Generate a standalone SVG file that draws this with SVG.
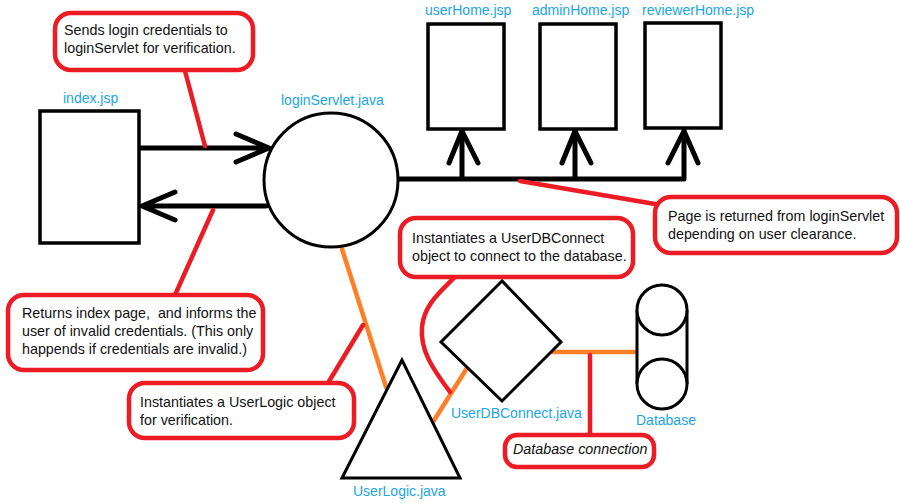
<svg xmlns="http://www.w3.org/2000/svg" width="900" height="503" viewBox="0 0 900 503">
<style>
.bg{fill:#ffffff}
.node{fill:#ffffff;stroke:#000;stroke-width:3.5}
.thin{fill:#ffffff;stroke:#000;stroke-width:3}
.lbl{font-family:"Liberation Sans",Arial,sans-serif;font-size:14px;fill:#22a4e8}
.ct{font-family:"Liberation Sans",Arial,sans-serif;font-size:14.3px;fill:#111;white-space:pre}
.call{fill:#ffffff;stroke:#ed1c24;stroke-width:4.5}
.blk{stroke:#000;stroke-width:5;fill:none;stroke-linecap:round;stroke-linejoin:round}
.red{stroke:#ed1c24;stroke-width:4.5;fill:none;stroke-linecap:round}
.org{stroke:#ff7f27;stroke-width:4.5;fill:none;stroke-linecap:round}
</style>
<rect class="bg" x="0" y="0" width="900" height="503"/>

<g id="connectors">
  <path class="blk" d="M139,148 L268,148 M236,134 L269,148 L236,162"/>
  <path class="blk" d="M266,206 L142,206 M175,192 L142,206 L175,220"/>
  <path class="blk" d="M398,179 L684,179 M462,179 L462,131 M575,179 L575,131 M684,179 L684,131"/>
  <path class="blk" d="M449,163 L462,131 L478,163 M562,163 L575,131 L591,163 M668,163 L684,131 L698,163"/>
  <path class="org" d="M342,249 L386,387"/>
  <path class="org" d="M433,422 L467,368"/>
  <path class="org" d="M552,352 L635,352"/>
  <path class="red" d="M185,71 L205,146"/>
  <path class="red" d="M213,210 L175,295"/>
  <path class="red" d="M520,181 L655,204"/>
  <path class="red" d="M328,383 L363,325"/>
  <path class="red" d="M455,277 C440,292 424,305 422,327 C420,350 432,368 450,392"/>
  <path class="red" d="M590,355 L590,435"/>
</g>

<g id="index-jsp">
  <rect class="node" x="40" y="111" width="99" height="132"/>
  <text class="lbl" x="63" y="103">index.jsp</text>
</g>

<g id="loginServlet-java">
  <circle class="thin" cx="331" cy="180" r="67"/>
  <text class="lbl" x="281" y="105">loginServlet.java</text>
</g>

<g id="userHome-jsp">
  <rect class="node" x="428" y="24" width="76" height="105"/>
  <text class="lbl" x="425" y="15">userHome.jsp</text>
</g>

<g id="adminHome-jsp">
  <rect class="node" x="540" y="24" width="76" height="105"/>
  <text class="lbl" x="532" y="15">adminHome.jsp</text>
</g>

<g id="reviewerHome-jsp">
  <rect class="node" x="645" y="23" width="76" height="105"/>
  <text class="lbl" x="642" y="15">reviewerHome.jsp</text>
</g>

<g id="UserLogic-java">
  <polygon class="thin" points="402,360 342,478 460,478"/>
  <text class="lbl" x="353" y="496">UserLogic.java</text>
</g>

<g id="UserDBConnect-java">
  <polygon class="thin" points="502,281 441,342 502,401 561,342"/>
  <text class="lbl" x="451" y="418">UserDBConnect.java</text>
</g>

<g id="Database">
  <path class="thin" d="M637,310 L637,384 M687,310 L687,384"/>
  <circle class="thin" cx="662" cy="310" r="25"/>
  <circle class="thin" cx="662" cy="384" r="25"/>
  <text class="lbl" x="636" y="425">Database</text>
</g>

<g id="callout-sends">
  <rect class="call" x="55" y="13" width="198" height="57" rx="16"/>
  <text class="ct" x="64" y="35">Sends login credentials to</text>
  <text class="ct" x="64" y="53">loginServlet for verification.</text>
</g>

<g id="callout-returns">
  <rect class="call" x="8" y="295" width="255" height="75" rx="16"/>
  <text class="ct" x="22" y="318" xml:space="preserve">Returns index page,  and informs the</text>
  <text class="ct" x="22" y="336">user of invalid credentials. (This only</text>
  <text class="ct" x="22" y="354">happends if credentials are invalid.)</text>
</g>

<g id="callout-userlogic">
  <rect class="call" x="129" y="383" width="225" height="55" rx="16"/>
  <text class="ct" x="140" y="407">Instantiates a UserLogic object</text>
  <text class="ct" x="140" y="425">for verification.</text>
</g>

<g id="callout-userdbconnect">
  <rect class="call" x="400" y="218" width="233" height="59" rx="16"/>
  <text class="ct" x="412" y="243">Instantiates a UserDBConnect</text>
  <text class="ct" x="412" y="261">object to connect to the database.</text>
</g>

<g id="callout-page">
  <rect class="call" x="655" y="197" width="242" height="56" rx="16"/>
  <text class="ct" x="668" y="221">Page is returned from loginServlet</text>
  <text class="ct" x="668" y="239">depending on user clearance.</text>
</g>

<g id="callout-dbconn">
  <rect class="call" x="505" y="435" width="149" height="32" rx="12"/>
  <text class="ct" x="513" y="454" font-style="italic" font-size="14">Database connection</text>
</g>
</svg>
